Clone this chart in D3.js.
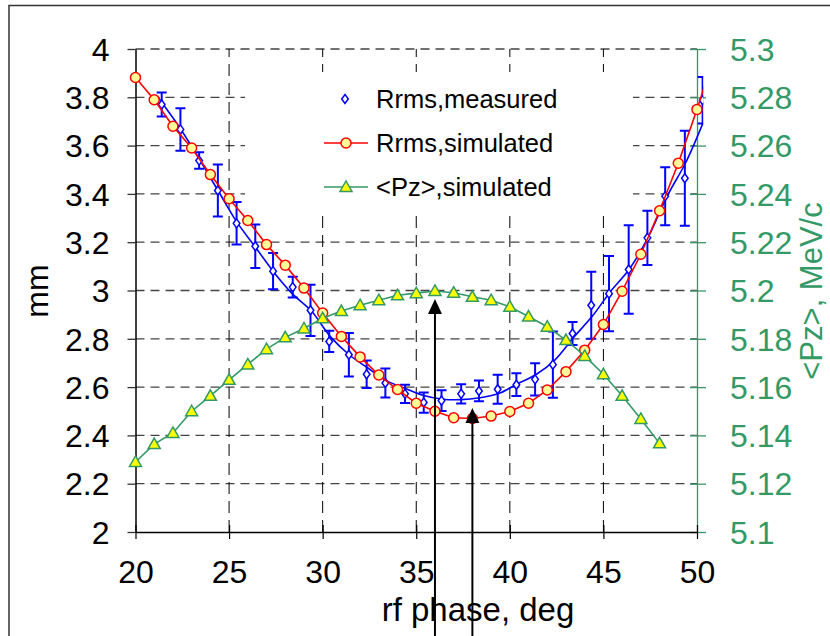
<!DOCTYPE html>
<html>
<head>
<meta charset="utf-8">
<script src="https://cdn.jsdelivr.net/npm/d3@7"></script>
<style>
  body { margin: 0; background: #fff; }
  svg { display: block; font-family: "Liberation Sans", Arial, sans-serif; }
</style>
</head>
<body>
<div id="chart"></div>
<script>
// rf phase ticks and axis ticks
const xTicks = [20, 25, 30, 35, 40, 45, 50];
const yTicks = [2, 2.2, 2.4, 2.6, 2.8, 3, 3.2, 3.4, 3.6, 3.8, 4];
const y2Ticks = [5.1, 5.12, 5.14, 5.16, 5.18, 5.2, 5.22, 5.24, 5.26, 5.28, 5.3];

// Rrms, simulated (mm)
const simPhase = [20, 21, 22, 23, 24, 25, 26, 27, 28, 29, 30, 31, 32, 33, 34, 35, 36, 37, 38, 39, 40, 41, 42, 43, 44, 45, 46, 47, 48, 49, 50, 51];
const simRrms = [3.882, 3.79, 3.68, 3.59, 3.48, 3.38, 3.29, 3.19, 3.105, 3.01, 2.907, 2.81, 2.725, 2.65, 2.59, 2.533, 2.50, 2.473, 2.47, 2.48, 2.499, 2.533, 2.588, 2.664, 2.753, 2.859, 2.997, 3.15, 3.33, 3.527, 3.75, 3.99];

// <Pz>, simulated (MeV/c)
const pzPhase = [20, 21, 22, 23, 24, 25, 26, 27, 28, 29, 30, 31, 32, 33, 34, 35, 36, 37, 38, 39, 40, 41, 42, 43, 44, 45, 46, 47, 48];
const pzSim = [5.129, 5.1364, 5.141, 5.150, 5.1564, 5.163, 5.1694, 5.1757, 5.1806, 5.1843, 5.1885, 5.1915, 5.1939, 5.196, 5.198, 5.1989, 5.1998, 5.1991, 5.1974, 5.196, 5.1933, 5.1892, 5.185, 5.1795, 5.1729, 5.1653, 5.1564, 5.1468, 5.1367];

// Rrms, measured (mm) with error
const measPhase = [21.4, 22.4, 23.4, 24.4, 25.4, 26.4, 27.35, 28.4, 29.35, 30.35, 31.4, 32.35, 33.35, 34.4, 35.4, 36.35, 37.4, 38.35, 39.35, 40.35, 41.35, 42.3, 43.35, 44.35, 45.3, 46.35, 47.35, 48.3, 49.35, 50.3];
const measRrms = [3.77, 3.667, 3.538, 3.414, 3.278, 3.183, 3.08, 3.014, 2.918, 2.789, 2.734, 2.653, 2.617, 2.572, 2.536, 2.544, 2.572, 2.584, 2.591, 2.61, 2.632, 2.693, 2.822, 2.939, 2.987, 3.087, 3.218, 3.39, 3.465, 3.788];
const measErr = [0.05, 0.088, 0.034, 0.108, 0.088, 0.09, 0.075, 0.043, 0.106, 0.044, 0.09, 0.057, 0.06, 0.038, 0.042, 0.043, 0.04, 0.043, 0.06, 0.047, 0.067, 0.137, 0.048, 0.139, 0.156, 0.183, 0.112, 0.12, 0.197, 0.096];

// smooth fit through measured data
const fitPhase = [21.2, 22.4, 23.4, 24.4, 25.4, 26.4, 27.4, 28.4, 29.4, 30.4, 31.4, 32.4, 33.4, 34.4, 35.4, 36.4, 37.4, 38.4, 39.4, 40.4, 41.4, 42.4, 43.4, 44.4, 45.4, 46.4, 47.4, 48.4, 49.4, 50.3];
const fitRrms = [3.80, 3.67, 3.545, 3.415, 3.285, 3.18, 3.075, 2.985, 2.915, 2.81, 2.735, 2.68, 2.627, 2.595, 2.565, 2.55, 2.548, 2.556, 2.573, 2.613, 2.652, 2.712, 2.805, 2.893, 2.998, 3.09, 3.222, 3.39, 3.53, 3.69];

// arrows marking the phases
const arrowPhase = [36, 38];
const arrowTip = [2.965, 2.513];

const legendNames = ["Rrms,measured", "Rrms,simulated", "<Pz>,simulated"];

const width = 830, height = 636;
const green = "#339966";
const tickFont = "32px";

const svg = d3.select("#chart").append("svg")
  .attr("width", width)
  .attr("height", height);

const x = d3.scaleLinear().domain([20, 50]).range([135.5, 697]);
const y = d3.scaleLinear().domain([2, 4]).range([532, 49]);
const y2 = d3.scaleLinear().domain([5.1, 5.3]).range([532, 49]);

// outer frame
svg.append("path")
  .attr("d", `M9,${height}V5.5H${width}`)
  .attr("fill", "none")
  .attr("stroke", "#333")
  .attr("stroke-width", 1.5);

svg.append("defs").append("clipPath").attr("id", "plotclip")
  .append("rect").attr("x", 120).attr("y", 40).attr("width", 703.3 - 120).attr("height", 500);

// horizontal grid
svg.append("g")
  .selectAll("line")
  .data(yTicks.slice(1))
  .join("line")
  .attr("x1", x(20)).attr("x2", x(50))
  .attr("y1", d => y(d)).attr("y2", d => y(d))
  .attr("stroke", "#444")
  .attr("stroke-width", 1.3)
  .attr("stroke-dasharray", "9,6");

// vertical grid
svg.append("g")
  .selectAll("line")
  .data(xTicks.slice(1, -1))
  .join("line")
  .attr("x1", d => x(d)).attr("x2", d => x(d))
  .attr("y1", y(2)).attr("y2", y(4))
  .attr("stroke", "#000")
  .attr("stroke-width", 1)
  .attr("stroke-dasharray", "12,7");

// legend background hides the grid
svg.append("rect")
  .attr("x", 245).attr("y", 72)
  .attr("width", 388).attr("height", 138)
  .attr("fill", "#fff");

// left axis
const gy = svg.append("g")
  .attr("transform", `translate(${x(20)},0)`)
  .call(d3.axisLeft(y).tickValues(yTicks).tickSizeInner(8).tickSizeOuter(0).tickFormat(d3.format("")));
gy.select(".domain").attr("stroke", "#000").attr("stroke-width", 1.5);
gy.selectAll(".tick line").attr("stroke", "#333").attr("stroke-width", 1.3);
gy.selectAll(".tick text")
  .attr("x", -26).attr("dy", "0.35em")
  .attr("fill", "#000").style("font-size", tickFont).style("font-family", "Liberation Sans, Arial");

// right axis
const gy2 = svg.append("g")
  .attr("transform", `translate(${x(50)},0)`)
  .call(d3.axisRight(y2).tickValues(y2Ticks).tickSizeInner(9).tickSizeOuter(0).tickFormat(d3.format("")));
gy2.select(".domain").attr("stroke", green).attr("stroke-width", 1.3);
gy2.selectAll(".tick line").attr("x1", -7).attr("stroke", green).attr("stroke-width", 1.3);
gy2.selectAll(".tick text")
  .attr("x", 33).attr("dy", "0.35em")
  .attr("fill", green).style("font-size", tickFont).style("font-family", "Liberation Sans, Arial");

// bottom axis
const gx = svg.append("g")
  .attr("transform", `translate(0,${y(2)})`)
  .call(d3.axisBottom(x).tickValues(xTicks).tickSizeInner(7).tickSizeOuter(0));
gx.select(".domain").attr("stroke", "#000").attr("stroke-width", 1.5);
gx.selectAll(".tick line").attr("y1", -7).attr("stroke", "#000").attr("stroke-width", 1.2);
gx.selectAll(".tick text")
  .attr("y", 28).attr("dy", "0.71em")
  .attr("fill", "#000").style("font-size", tickFont).style("font-family", "Liberation Sans, Arial");

// axis titles
svg.append("text")
  .attr("transform", "translate(37,291) rotate(-90)")
  .attr("text-anchor", "middle").attr("dy", "0.35em")
  .style("font-size", tickFont)
  .text("mm");

svg.append("text")
  .attr("transform", "translate(811,291) rotate(-90)")
  .attr("text-anchor", "middle").attr("dy", "0.35em")
  .attr("fill", green)
  .style("font-size", "31px")
  .text("<Pz>, MeV/c");

svg.append("text")
  .attr("x", 478).attr("y", 621)
  .attr("text-anchor", "middle")
  .style("font-size", "33px")
  .text("rf phase, deg");

// series
const plot = svg.append("g").attr("clip-path", "url(#plotclip)");

const diamond = "M0,-4.5L3.3,0L0,4.5L-3.3,0Z";
const triangle = "M0,-6L6,4.5L-6,4.5Z";

const meas = measPhase.map((p, i) => ({ p, v: measRrms[i], e: measErr[i] }));
const fit = fitPhase.map((p, i) => ({ p, v: fitRrms[i] }));
const sim = simPhase.map((p, i) => ({ p, v: simRrms[i] }));
const pz = pzPhase.map((p, i) => ({ p, v: pzSim[i] }));

// measured: error bars, fit line, diamonds
const eb = plot.append("g").attr("stroke", "#0000ff").attr("stroke-width", 2);
eb.selectAll("path")
  .data(meas)
  .join("path")
  .attr("fill", "none")
  .attr("d", d => {
    const cx = x(d.p), t = y(d.v + d.e), b = y(d.v - d.e);
    return `M${cx},${t}V${b}M${cx - 5},${t}H${cx + 5}M${cx - 5},${b}H${cx + 5}`;
  });

plot.append("path")
  .datum(fit)
  .attr("fill", "none")
  .attr("stroke", "#0000ff")
  .attr("stroke-width", 1.6)
  .attr("d", d3.line().x(d => x(d.p)).y(d => y(d.v)).curve(d3.curveCatmullRom));

plot.append("g")
  .selectAll("path")
  .data(meas)
  .join("path")
  .attr("transform", d => `translate(${x(d.p)},${y(d.v)})`)
  .attr("d", diamond)
  .attr("fill", "#fff")
  .attr("stroke", "#0000ff")
  .attr("stroke-width", 1.5);

// simulated Rrms
plot.append("path")
  .datum(sim)
  .attr("fill", "none")
  .attr("stroke", "#ff0000")
  .attr("stroke-width", 1.6)
  .attr("d", d3.line().x(d => x(d.p)).y(d => y(d.v)));

plot.append("g")
  .selectAll("circle")
  .data(sim)
  .join("circle")
  .attr("cx", d => x(d.p)).attr("cy", d => y(d.v))
  .attr("r", 5)
  .attr("fill", "#ffff99")
  .attr("stroke", "#ff0000")
  .attr("stroke-width", 1.5);

// simulated Pz
plot.append("path")
  .datum(pz)
  .attr("fill", "none")
  .attr("stroke", green)
  .attr("stroke-width", 1.6)
  .attr("d", d3.line().x(d => x(d.p)).y(d => y2(d.v)));

plot.append("g")
  .selectAll("path")
  .data(pz)
  .join("path")
  .attr("transform", d => `translate(${x(d.p)},${y2(d.v)})`)
  .attr("d", triangle)
  .attr("fill", "#ffff00")
  .attr("stroke", green)
  .attr("stroke-width", 1.5);

// legend
const legY = [99, 143, 187];
const leg = svg.append("g");
leg.append("path").attr("transform", `translate(345,${legY[0]})`).attr("d", diamond)
  .attr("fill", "#fff").attr("stroke", "#0000ff").attr("stroke-width", 1.5);
leg.append("line").attr("x1", 324).attr("x2", 368).attr("y1", legY[1]).attr("y2", legY[1])
  .attr("stroke", "#ff0000").attr("stroke-width", 1.6);
leg.append("circle").attr("cx", 346).attr("cy", legY[1]).attr("r", 5)
  .attr("fill", "#ffff99").attr("stroke", "#ff0000").attr("stroke-width", 1.5);
leg.append("line").attr("x1", 324).attr("x2", 368).attr("y1", legY[2]).attr("y2", legY[2])
  .attr("stroke", green).attr("stroke-width", 1.6);
leg.append("path").attr("transform", `translate(346,${legY[2]})`).attr("d", triangle)
  .attr("fill", "#ffff00").attr("stroke", green).attr("stroke-width", 1.5);
leg.selectAll("text")
  .data(legendNames)
  .join("text")
  .attr("x", 376).attr("y", (d, i) => legY[i])
  .attr("dy", "0.35em")
  .style("font-size", "25.5px")
  .text(d => d);

// arrows
const arrows = svg.append("g");
arrowPhase.forEach((p, i) => {
  const ax = x(p), tip = y(arrowTip[i]);
  arrows.append("line")
    .attr("x1", ax).attr("x2", ax)
    .attr("y1", tip + 10).attr("y2", height)
    .attr("stroke", "#000").attr("stroke-width", 2);
  arrows.append("path")
    .attr("d", `M${ax},${tip}L${ax + 7},${tip + 15}L${ax - 7},${tip + 15}Z`)
    .attr("fill", "#000");
});
</script>
</body>
</html>
